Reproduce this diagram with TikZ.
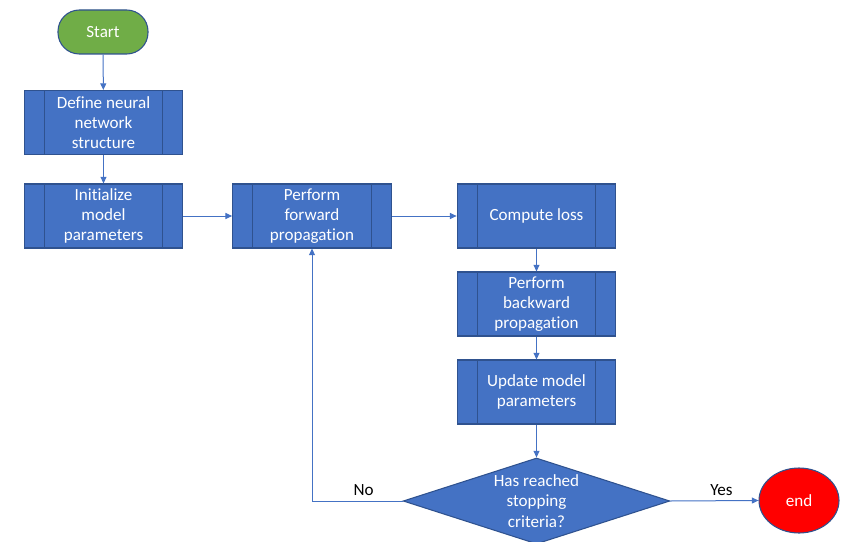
\documentclass[tikz,border=0pt]{standalone}
\usepackage{fontspec}
\setmainfont[Ligatures=NoCommon]{Carlito}
\usetikzlibrary{shapes.geometric,arrows.meta}
\definecolor{boxblue}{HTML}{4472C4}
\definecolor{edgeblue}{HTML}{2F528F}
\definecolor{startgreen}{HTML}{70AD47}

\begin{document}
\begin{tikzpicture}[x=0.75pt,y=-0.75pt,
  font=\fontsize{12.8pt}{15.2pt}\selectfont,
  stepbox/.style={draw=edgeblue,fill=boxblue,text=white,align=center,
    minimum width=119pt,minimum height=48pt,inner sep=0pt,line width=0.8pt,
    path picture={\draw[edgeblue,line width=0.8pt]
      ([xshift=15pt]path picture bounding box.north west) -- ([xshift=15pt]path picture bounding box.south west)
      ([xshift=-15pt]path picture bounding box.north east) -- ([xshift=-15pt]path picture bounding box.south east);}},
  flow/.style={boxblue,line width=0.75pt,-{Triangle[length=5pt,width=4.5pt]}}]
\useasboundingbox (0,0) rectangle (856,542);
\node[draw=edgeblue,fill=startgreen,text=white,rounded corners=16pt,line width=0.8pt,
  minimum width=67.5pt,minimum height=33pt,inner sep=0pt] (start) at (103,32) {Start};
\node[stepbox] (define) at (103.5,122.5) {Define neural\\network\\structure};
\node[stepbox] (init) at (103.5,216) {Initialize\\model\\parameters};
\node[stepbox] (fwd) at (312,216) {Perform\\forward\\propagation};
\node[stepbox] (loss) at (536.5,216) {Compute loss};
\node[stepbox] (back) at (536.5,304) {Perform\\backward\\propagation};
\node[stepbox] (update) at (536.5,392) {Update model\\parameters};
\node[diamond,draw=edgeblue,fill=boxblue,line width=0.8pt,aspect=3.1,inner sep=0pt,
  minimum width=200pt,minimum height=64.5pt] (check) at (536.5,501) {};
\node[text=white,align=center] (checktext) at (check) {Has reached\\stopping\\criteria?};
\node[ellipse,draw=edgeblue,fill=red,text=white,line width=0.8pt,
  minimum width=60pt,minimum height=48.75pt,inner sep=0pt] (end) at (799,500.5) {end};

\draw[flow] (start) -- (define);
\draw[flow] (define) -- (init);
\draw[flow] (init) -- (fwd);
\draw[flow] (fwd) -- (loss);
\draw[flow] (loss) -- (back);
\draw[flow] (back) -- (update);
\draw[flow] (update.south) -- (update.south |- check.north);
\draw[flow] (check.east) -- node[above,pos=0.58,text=black]{Yes} (end.west);
\draw[flow] (check.west) -- node[above,pos=0.43,text=black]{No} (fwd.south |- check.west) -- (fwd.south);
\end{tikzpicture}
\end{document}
